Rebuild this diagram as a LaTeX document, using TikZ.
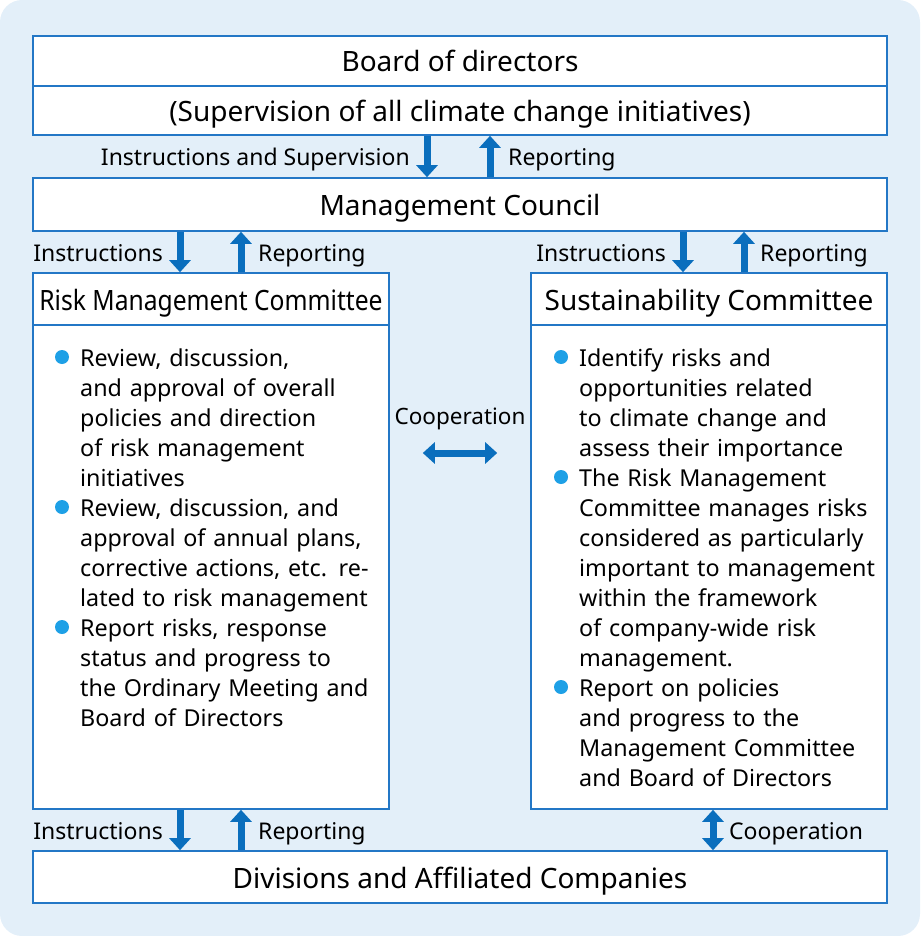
\documentclass[tikz,border=0pt]{standalone}
\usepackage{fontspec}
\setmainfont{Noto Sans}
\usepackage{graphicx}
\usepackage{tikz}
\usetikzlibrary{positioning, arrows.meta, calc}
\usepackage{xcolor}
\definecolor{bgblue}{HTML}{E3EFF9}
\definecolor{boxblue}{HTML}{2377C6}
\definecolor{arrblue}{HTML}{0A6EBD}
\definecolor{dotblue}{HTML}{1EA0E6}

\tikzset{
  box/.style={draw=boxblue, line width=1.6pt, fill=white, inner sep=0pt, minimum width=854pt},
  titlefont/.style={font=\fontsize{28pt}{32pt}\selectfont, text height=22pt, text depth=0pt},
  lbl/.style={font=\fontsize{23pt}{26pt}\selectfont, inner sep=0pt},
  flow/.style={arrblue, line width=7pt, -{Triangle[width=21pt,length=12pt]}},
  both/.style={arrblue, line width=7pt, {Triangle[width=21pt,length=12pt]}-{Triangle[width=21pt,length=12pt]}},
  items/.style={font=\fontsize{23.3pt}{30pt}\selectfont, align=left, inner sep=0pt, anchor=base west, text width=320pt},
  dot/.style={fill=dotblue, circle, inner sep=0pt, minimum size=14pt}
}

\begin{document}
\begin{tikzpicture}[x=1pt, y=-1pt]
    % Background
    \fill[bgblue, rounded corners=22pt] (0,0) rectangle (920,936);
    \useasboundingbox (0,0) rectangle (920,936);

    % Boxes
    \node[box, titlefont, minimum height=50pt] (board) at (460,61) {Board of directors};
    \node[box, titlefont, minimum height=49pt] (supervision) at (460,110.5) {(Supervision of all climate change initiatives)};
    \node[box, titlefont, minimum height=53pt] (council) at (460,204.5) {Management Council};
    \node[box, titlefont, minimum height=52pt] (divisions) at (460,877) {Divisions and Affiliated Companies};

    \node[box, minimum width=356pt, minimum height=536pt] (riskcom) at (211,541) {};
    \node[box, minimum width=356pt, minimum height=536pt] (sustcom) at (709,541) {};
    \node[box, titlefont, minimum width=356pt, minimum height=52pt] (risktitle) at (211,299) {\scalebox{0.88}[1]{Risk Management Committee}};
    \node[box, titlefont, minimum width=356pt, minimum height=52pt] (susttitle) at (709,299) {Sustainability Committee};

    % Arrows between board and council
    \draw[flow] (427,0 |- supervision.south) -- (427,0 |- council.north);
    \draw[flow] (490,0 |- council.north) -- (490,0 |- supervision.south);
    \node[lbl, anchor=base east] (instsup) at (410,166) {Instructions and Supervision};
    \node[lbl, anchor=base west] (repboard) at (508,166) {Reporting};

    % Arrows between council and committees
    \draw[flow] (180,0 |- council.south) -- (180,0 |- riskcom.north);
    \draw[flow] (241,0 |- riskcom.north) -- (241,0 |- council.south);
    \node[lbl, anchor=base east] (instrisk) at (163,261) {Instructions};
    \node[lbl, anchor=base west] (reprisk) at (258,261) {Reporting};
    \draw[flow] (683,0 |- council.south) -- (683,0 |- sustcom.north);
    \draw[flow] (744,0 |- sustcom.north) -- (744,0 |- council.south);
    \node[lbl, anchor=base east] (instsust) at (666,261) {Instructions};
    \node[lbl, anchor=base west] (repsust) at (760,261) {Reporting};

    % Cooperation between committees
    \node[lbl, font=\fontsize{22.5pt}{26pt}\selectfont, anchor=base] (coop) at (460,424) {Cooperation};
    \draw[both] (riskcom.east |- 0,453) ++(33,0) coordinate (cl) -- ($(sustcom.west |- 0,453)+(-33,0)$) coordinate (cr);

    % Arrows between committees and divisions
    \draw[flow] (180,0 |- riskcom.south) -- (180,0 |- divisions.north);
    \draw[flow] (241,0 |- divisions.north) -- (241,0 |- riskcom.south);
    \node[lbl, anchor=base east] (instdiv) at (163,839) {Instructions};
    \node[lbl, anchor=base west] (repdiv) at (258,839) {Reporting};
    \draw[both] (713,0 |- sustcom.south) -- (713,0 |- divisions.north);
    \node[lbl, anchor=base west] (coopdiv) at (729,839) {Cooperation};

    % Risk Management Committee items
    \node[items] (riskA) at (80,366) {Review, discussion,\\ and approval of overall\\ policies and direction\\ of risk management\\ initiatives};
    \node[items] (riskB) at (80,516) {Review, discussion, and\\ approval of annual plans,\\ corrective actions, etc. re-\\ lated to risk management};
    \node[items] (riskC) at (80,636) {Report risks, response\\ status and progress to\\ the Ordinary Meeting and\\ Board of Directors};
    \node[dot] at (62,357) {};
    \node[dot] at (62,507) {};
    \node[dot] at (62,627) {};

    % Sustainability Committee items
    \node[items] (sustA) at (579,366) {Identify risks and\\ opportunities related\\ to climate change and\\ assess their importance};
    \node[items] (sustB) at (579,486) {The Risk Management\\ Committee manages risks\\ considered as particularly\\ important to management\\ within the framework\\ of company-wide risk\\ management.};
    \node[items] (sustC) at (579,696) {Report on policies\\ and progress to the\\ Management Committee\\ and Board of Directors};
    \node[dot] at (561,357) {};
    \node[dot] at (561,477) {};
    \node[dot] at (561,687) {};
\end{tikzpicture}
\end{document}
